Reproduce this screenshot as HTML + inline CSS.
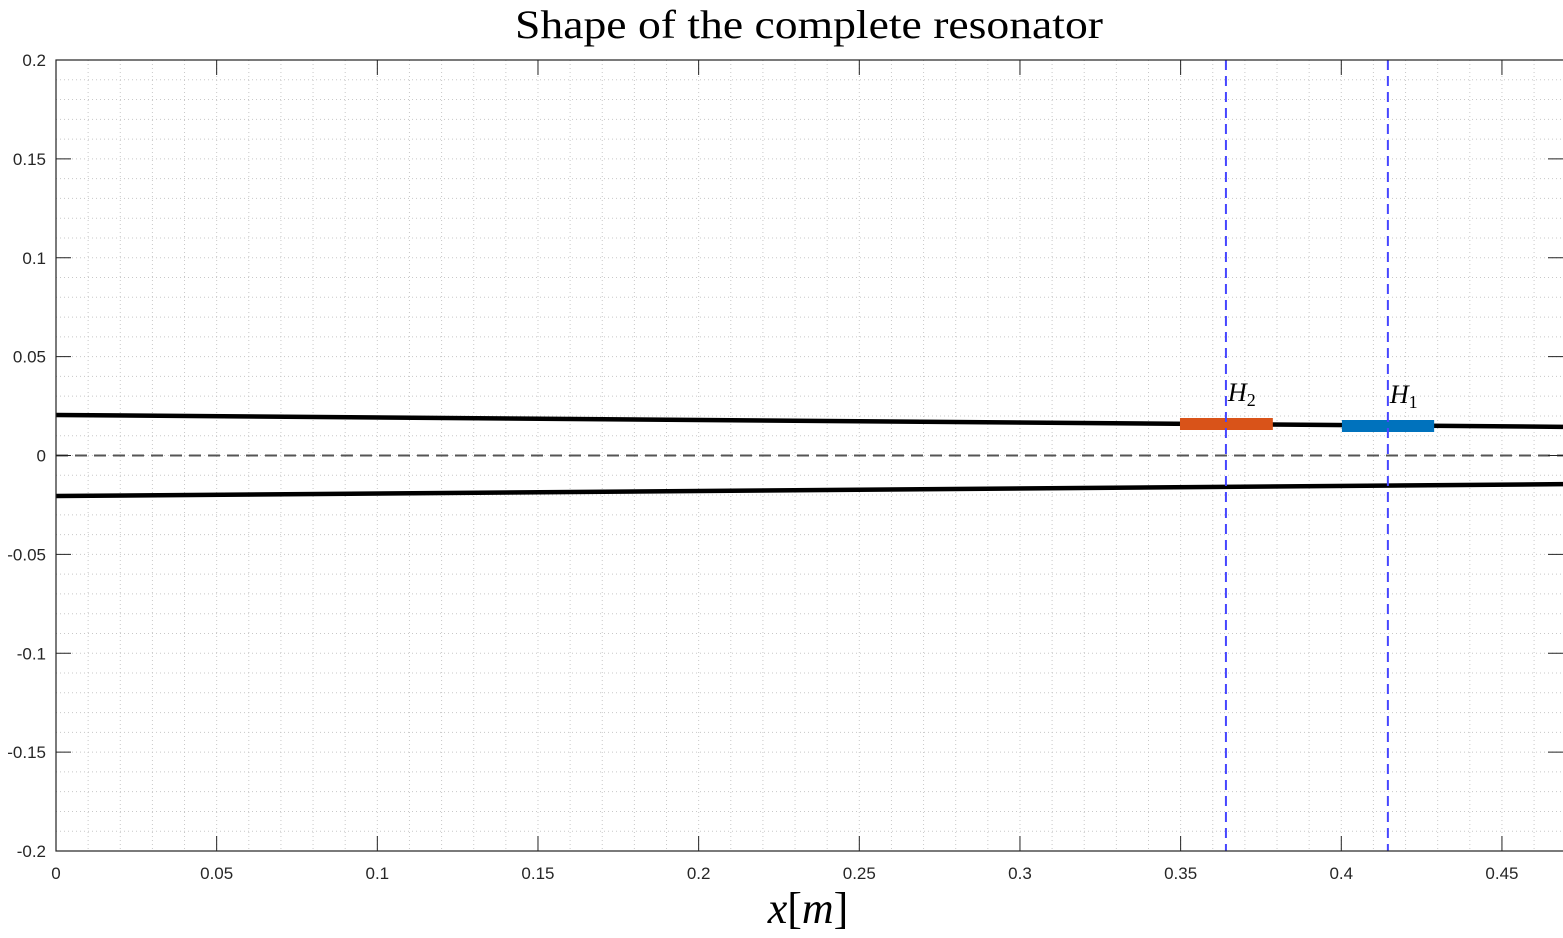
<!DOCTYPE html>
<html><head><meta charset="utf-8"><style>
html,body{margin:0;padding:0;background:#fff;}
svg{display:block;}
</style></head><body>
<svg id="chart" width="1563" height="938" xmlns="http://www.w3.org/2000/svg">
<text x="515" y="38" textLength="588" lengthAdjust="spacingAndGlyphs" font-family="Liberation Serif, serif" font-size="40">Shape of the complete resonator</text>
<g id="grid"></g>
<g id="marks"></g>
<g id="axes"></g>
<text x="808" y="923" text-anchor="middle" font-family="Liberation Serif, serif" font-size="44"><tspan font-style="italic">x</tspan>[<tspan font-style="italic">m</tspan>]</text>
</svg>
<script>
const xTicks = [0,0.05,0.1,0.15,0.2,0.25,0.3,0.35,0.4,0.45];
const xTickLabels = ["0","0.05","0.1","0.15","0.2","0.25","0.3","0.35","0.4","0.45"];
const yTicks = [-0.2,-0.15,-0.1,-0.05,0,0.05,0.1,0.15,0.2];
const yTickLabels = ["-0.2","-0.15","-0.1","-0.05","0","0.05","0.1","0.15","0.2"];
const upperX = [0, 0.469];
const upperY = [0.0205, 0.0145];
const lowerX = [0, 0.469];
const lowerY = [-0.0205, -0.0145];
const segmentNames = ["H2","H1"];
const segmentStart = [0.3498, 0.4002];
const segmentEnd = [0.3787, 0.4289];
const segmentY = [0.0159, 0.0149];
const segmentColors = ["#D95319","#0072BD"];
const markerX = [0.3641, 0.4145];

const X0=56,X1=1563,Y0=851,Y1=60, XMAX=0.469;
const sx=v=>X0+(v/XMAX)*(X1-X0);
const sy=v=>Y0-((v+0.2)/0.4)*(Y0-Y1);
const NS="http://www.w3.org/2000/svg";
function mk(p,t,a){const e=document.createElementNS(NS,t);for(const k in a)e.setAttribute(k,a[k]);p.appendChild(e);return e;}
const grid=document.getElementById('grid'),marks=document.getElementById('marks'),axes=document.getElementById('axes');
for(let i=1;i<=46;i++){const x=sx(i*0.01);
 const l=mk(grid,'line',{x1:x,x2:x,y1:Y1,y2:Y0,stroke:'#c8c8c8','stroke-width':1,'stroke-dasharray':'1,3'});
 }
for(let i=-19;i<=19;i++){const y=sy(i*0.01);
 const l=mk(grid,'line',{x1:X0,x2:X1,y1:y,y2:y,stroke:'#c8c8c8','stroke-width':1,'stroke-dasharray':'1,3'});
 }
const z=mk(marks,'line',{x1:X0,x2:X1,y1:sy(0),y2:sy(0),stroke:'#555','stroke-width':2,'stroke-dasharray':'12,7'});

const up=mk(marks,'polyline',{points:upperX.map((v,i)=>sx(v)+','+sy(upperY[i])).join(' '),fill:'none',stroke:'#000','stroke-width':4.5});

const lo=mk(marks,'polyline',{points:lowerX.map((v,i)=>sx(v)+','+sy(lowerY[i])).join(' '),fill:'none',stroke:'#000','stroke-width':4.5});

segmentNames.forEach((n,i)=>{
 const r=mk(marks,'line',{x1:sx(segmentStart[i]),x2:sx(segmentEnd[i]),y1:sy(segmentY[i]),y2:sy(segmentY[i]),stroke:segmentColors[i],'stroke-width':12});
 
 const v=mk(marks,'line',{x1:sx(markerX[i]),x2:sx(markerX[i]),y1:Y1,y2:Y0,stroke:'#4646ff','stroke-width':2,'stroke-dasharray':'10,6'});
 
 const t=mk(marks,'text',{x:sx(markerX[i])+2,y:sy(segmentY[i])-23,'font-family':'Liberation Serif, serif','font-size':26});
 
 t.innerHTML='<tspan font-style="italic">H</tspan><tspan font-size="18" dy="5">'+n.slice(1)+'</tspan>';
});
const box=mk(axes,'rect',{x:X0,y:Y1,width:X1-X0+2,height:Y0-Y1,fill:'none',stroke:'#222','stroke-width':1.2});

xTicks.forEach((v,i)=>{const x=sx(v);
 mk(axes,'line',{x1:x,x2:x,y1:Y0,y2:Y0-15,stroke:'#222'});mk(axes,'line',{x1:x,x2:x,y1:Y1,y2:Y1+15,stroke:'#222'});
 const t=mk(axes,'text',{x:x,y:Y0+28,'text-anchor':'middle','font-family':'Liberation Sans, sans-serif','font-size':17,fill:'#262626'});
 t.textContent=xTickLabels[i];});
yTicks.forEach((v,i)=>{const y=sy(v);
 mk(axes,'line',{x1:X0,x2:X0+15,y1:y,y2:y,stroke:'#222'});mk(axes,'line',{x1:X1-15,x2:X1,y1:y,y2:y,stroke:'#222'});
 const t=mk(axes,'text',{x:X0-10,y:y+6,'text-anchor':'end','font-family':'Liberation Sans, sans-serif','font-size':17,fill:'#262626'});
 t.textContent=yTickLabels[i];});
</script>
</body></html>
